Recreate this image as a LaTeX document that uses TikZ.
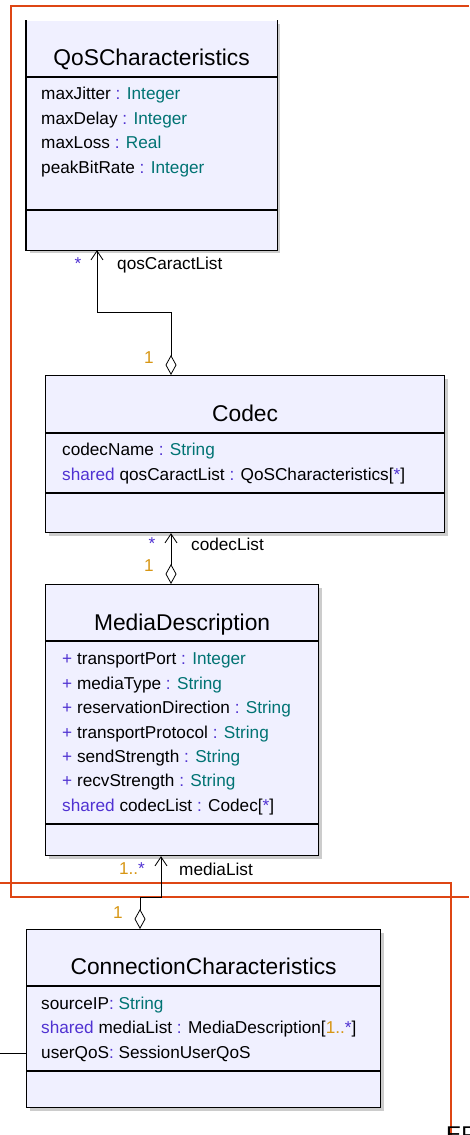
\documentclass[tikz,border=0pt]{standalone}
\usepackage{fontspec}
\setmainfont{Liberation Sans}
\usetikzlibrary{arrows.meta,shadows}

\definecolor{boxfill}{RGB}{240,240,255}
\definecolor{kwcol}{RGB}{80,50,210}
\definecolor{typecol}{RGB}{0,115,115}
\definecolor{multcol}{RGB}{215,150,20}
\definecolor{framecol}{RGB}{222,70,20}

\newcommand\umlkw[1]{\textcolor{kwcol}{#1}}
\newcommand\umltype[1]{\textcolor{typecol}{#1}}
\newcommand\umlmult[1]{\textcolor{multcol}{#1}}
\newcommand\titlefont{\fontsize{22.8}{26}\selectfont}
\newcommand\attrfont{\fontsize{17.2}{20}\selectfont}

\tikzset{
  classbox/.style={fill=boxfill, draw=black, line width=1.2pt, inner sep=0pt, anchor=north west,
    drop shadow={shadow xshift=3pt, shadow yshift=-3pt, fill=black!20, opacity=1}},
  boxline/.style={draw=black, line width=1.2pt},
  ctitle/.style={anchor=base, inner sep=0pt, font=\titlefont},
  attr/.style={anchor=base west, inner sep=0pt, font=\attrfont},
  rolelabel/.style={anchor=base west, inner sep=0pt, font=\attrfont},
  multlabel/.style={inner sep=0pt, font=\attrfont},
  aggr/.style={line width=0.8pt, {Diamond[open, length=20pt, width=11pt]}-{Straight Barb[length=9pt, width=12pt]}},
  frameline/.style={draw=framecol, line width=1.8pt}
}

\begin{document}
\begin{tikzpicture}[x=1pt, y=-1pt]
  \useasboundingbox (0,0) rectangle (469,1135);

  \draw[frameline] (469,6) -- (11,6) -- (11,897) -- (469,897);
  \draw[frameline] (0,883) -- (451,883) -- (451,1135);

  \node[classbox, draw=none, minimum width=250pt, minimum height=229pt] (qos) at (26,20) {};
  \draw[boxline] (qos.north west) -- (qos.south west) -- (qos.south east) -- (qos.north east);
  \draw[boxline] (qos.west |- 0,77) -- (qos.east |- 0,77);
  \draw[boxline] (qos.west |- 0,210) -- (qos.east |- 0,210);
  \node[ctitle] (qosname) at (qos.north |- 0,65) {QoSCharacteristics};
  \node[attr] (qosa1) at (41,99) {maxJitter \umlkw{:} \umltype{Integer}};
  \node[attr] (qosa2) at (41,124) {maxDelay \umlkw{:} \umltype{Integer}};
  \node[attr] (qosa3) at (41,148) {maxLoss \umlkw{:} \umltype{Real}};
  \node[attr] (qosa4) at (41,173) {peakBitRate \umlkw{:} \umltype{Integer}};

  \node[classbox, minimum width=399pt, minimum height=157pt] (codec) at (45,375) {};
  \draw[boxline] (codec.west |- 0,433) -- (codec.east |- 0,433);
  \draw[boxline] (codec.west |- 0,493) -- (codec.east |- 0,493);
  \node[ctitle] (codecname) at (codec.north |- 0,421) {Codec};
  \node[attr] (codeca1) at (62,455) {codecName \umlkw{:} \umltype{String}};
  \node[attr] (codeca2) at (62,480) {\umlkw{shared} qosCaractList \umlkw{:} QoSCharacteristics[\umlkw{*}]};

  \node[classbox, minimum width=273pt, minimum height=271pt] (media) at (45,584) {};
  \draw[boxline] (media.west |- 0,641) -- (media.east |- 0,641);
  \draw[boxline] (media.west |- 0,824) -- (media.east |- 0,824);
  \node[ctitle] (medianame) at (media.north |- 0,630) {MediaDescription};
  \node[attr] (mediaa1) at (62,664) {\umlkw{+} transportPort \umlkw{:} \umltype{Integer}};
  \node[attr] (mediaa2) at (62,689) {\umlkw{+} mediaType \umlkw{:} \umltype{String}};
  \node[attr] (mediaa3) at (62,713) {\umlkw{+} reservationDirection \umlkw{:} \umltype{String}};
  \node[attr] (mediaa4) at (62,738) {\umlkw{+} transportProtocol \umlkw{:} \umltype{String}};
  \node[attr] (mediaa5) at (62,762) {\umlkw{+} sendStrength \umlkw{:} \umltype{String}};
  \node[attr] (mediaa6) at (62,786) {\umlkw{+} recvStrength \umlkw{:} \umltype{String}};
  \node[attr] (mediaa7) at (62,811) {\umlkw{shared} codecList \umlkw{:} Codec[\umlkw{*}]};

  \node[classbox, minimum width=354pt, minimum height=178pt] (conn) at (26,929) {};
  \draw[boxline] (conn.west |- 0,986) -- (conn.east |- 0,986);
  \draw[boxline] (conn.west |- 0,1071) -- (conn.east |- 0,1071);
  \node[ctitle] (connname) at (conn.north |- 0,974) {ConnectionCharacteristics};
  \node[attr] (conna1) at (41,1009) {sourceIP\umlkw{:} \umltype{String}};
  \node[attr] (conna2) at (41,1033) {\umlkw{shared} mediaList \umlkw{:} MediaDescription[\umlmult{1..}\umlkw{*}]};
  \node[attr] (conna3) at (41,1058) {userQoS\umlkw{:} SessionUserQoS};

  \draw[aggr] ([xshift=126pt]codec.north west) -- ++(0,-63) -| ([xshift=71pt]qos.south west);
  \node[multlabel, text=kwcol] (qosstar) at (78,264) {*};
  \node[rolelabel] (qosrole) at (117,269) {qosCaractList};
  \node[multlabel, text=multcol] (codecone) at (149,358) {1};

  \draw[aggr] ([xshift=126pt]media.north west) -- ([xshift=126pt]codec.south west);
  \node[multlabel, text=kwcol] (codecstar) at (152,544) {*};
  \node[rolelabel] (codecrole) at (191,550) {codecList};
  \node[multlabel, text=multcol] (mediaone) at (149,566) {1};

  \draw[aggr] ([xshift=114pt]conn.north west) -- ++(0,-32) -| ([xshift=116pt]media.south west);
  \node[multlabel] (mediamany) at (132,869) {\umlmult{1..}\umlkw{*}};
  \node[rolelabel] (mediarole) at (179,875) {mediaList};
  \node[multlabel, text=multcol] (connone) at (118,913) {1};

  \coordinate (leftend) at (0,1053);
  \draw[line width=0.8pt] (conn.west |- leftend) -- (leftend);

  \node[anchor=north west, inner sep=0pt, font=\titlefont] (eptext) at (446,1127) {EP};
\end{tikzpicture}
\end{document}
